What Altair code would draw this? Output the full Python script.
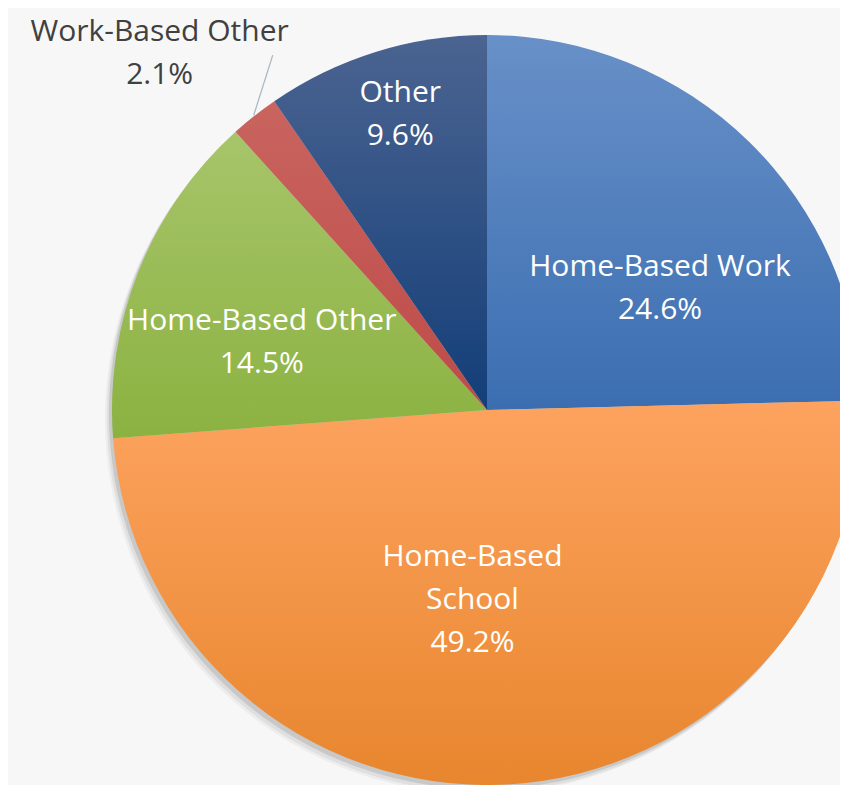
import math
import altair as alt
import pandas as pd

# ---- data ----
categories = ["Home-Based Work", "Home-Based School", "Home-Based Other", "Work-Based Other", "Other"]
shares = [24.6, 49.2, 14.5, 2.1, 9.6]
labels = [
    ["Home-Based Work", "24.6%"],
    ["Home-Based", "School", "49.2%"],
    ["Home-Based Other", "14.5%"],
    ["Work-Based Other", "2.1%"],
    ["Other", "9.6%"],
]

df = pd.DataFrame({"cat": categories, "share": shares, "order": list(range(len(categories)))})

# ---- styles ----
W, H = 832, 777
CX, CY, R = 479, 402, 375
LH = 43
grad = {
    "Home-Based Work": ("#6890c8", "#3b6eb1"),
    "Home-Based School": ("#fda35f", "#e8862e"),
    "Home-Based Other": ("#a7c56a", "#8bb241"),
    "Work-Based Other": ("#c9645f", "#be4b48"),
    "Other": ("#4b6491", "#133e78"),
}
# label placement: radius from centre along the slice mid-angle, plus nudge
lab_pos = {
    "Home-Based Work": (212, 25, 30),
    "Home-Based School": (189, -24, 1),
    "Home-Based Other": (235, -7, 20),
    "Work-Based Other": (460, -42, 4),
    "Other": (309, 5, 0),
}

base = alt.Chart(df).transform_joinaggregate(
    total="sum(share)"
).transform_window(
    cum="sum(share)", sort=[alt.SortField("order")], frame=[None, 0]
).transform_calculate(
    t1="(datum.cum - datum.share) / datum.total * 2 * PI",
    t2="datum.cum / datum.total * 2 * PI",
    tm="(datum.cum - datum.share / 2) / datum.total * 2 * PI",
)

layers = []
for off, op in [((-7, 9), 0.04), ((-5, 7), 0.06), ((-3, 4), 0.10)]:
    layers.append(
        base.mark_arc(radius=R, fill="#000000", opacity=op, stroke=None).encode(
            theta=alt.Theta("t1:Q", scale=None),
            theta2="t2:Q",
            x=alt.value(CX + off[0]),
            y=alt.value(CY + off[1]),
        )
    )

for c in categories:
    top, bot = grad[c]
    g = alt.Gradient(
        gradient="linear",
        x1=0, y1=0, x2=0, y2=1,
        stops=[alt.GradientStop(offset=0, color=top), alt.GradientStop(offset=1, color=bot)],
    )
    layers.append(
        base.transform_filter(alt.datum.cat == c)
        .mark_arc(radius=R, fill=g, stroke=None)
        .encode(
            theta=alt.Theta("t1:Q", scale=None),
            theta2="t2:Q",
            x=alt.value(CX),
            y=alt.value(CY),
        )
    )

# leader line for the small outside label
lead = base.transform_filter(alt.datum.cat == "Work-Based Other").transform_calculate(
    lx1=f"{CX} + {R + 1} * sin(datum.tm)",
    ly1=f"{CY} - {R + 1} * cos(datum.tm)",
    lx2=f"{CX} + {R + 1} * sin(datum.tm) + 19",
    ly2=f"{CY} - {R + 1} * cos(datum.tm) - 60",
).mark_rule(color="#a9b8c6", strokeWidth=1.3).encode(
    x=alt.X("lx1:Q", scale=None),
    y=alt.Y("ly1:Q", scale=None),
    x2="lx2:Q",
    y2="ly2:Q",
)
layers.append(lead)

for c, lab in zip(categories, labels):
    r, dx, dy = lab_pos[c]
    col = "#404040" if c == "Work-Based Other" else "#ffffff"
    layers.append(
        base.transform_filter(alt.datum.cat == c)
        .mark_text(
            text=lab,
            radius=r,
            dx=dx,
            dy=dy - (len(lab) - 1) * LH / 2,
            font="Open Sans",
            fontSize=30,
            lineHeight=LH,
            color=col,
            align="center",
            baseline="middle",
        )
        .encode(
            theta=alt.Theta("tm:Q", scale=None),
            x=alt.value(CX),
            y=alt.value(CY),
        )
    )

chart = alt.layer(*layers).properties(
    width=W, height=H, background="#f7f7f7", padding=0, autosize="none"
).configure_view(stroke=None)

chart.save("out.html", embed_options={"renderer": "svg", "actions": False})
